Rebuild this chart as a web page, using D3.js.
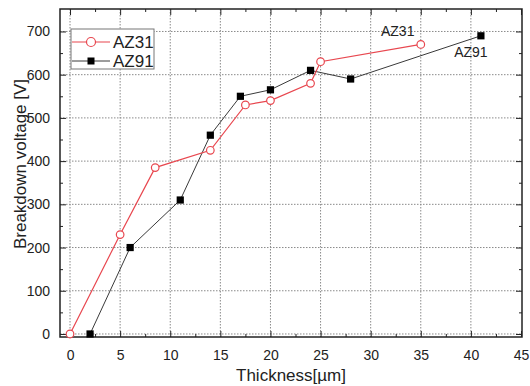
<!DOCTYPE html>
<html>
<head>
<meta charset="utf-8">
<script src="https://cdn.jsdelivr.net/npm/d3@7"></script>
<style>
  body { margin: 0; background: #fff; }
  svg { font-family: "Liberation Sans", Arial, sans-serif; }
  .grid line { stroke: #8a8a8a; stroke-width: 1; stroke-dasharray: 1.5,1.5; }
</style>
</head>
<body>
<div id="chart"></div>
<script>
// thickness (um) and breakdown voltage (V)
var az31X = [0, 5, 8.5, 14, 17.5, 20, 24, 25, 35];
var az31Y = [0, 230, 385, 425, 530, 540, 580, 630, 670];
var az91X = [2, 6, 11, 14, 17, 20, 24, 28, 41];
var az91Y = [0, 200, 310, 460, 550, 565, 610, 590, 690];
var xTicks = [0, 5, 10, 15, 20, 25, 30, 35, 40, 45];
var yTicks = [0, 100, 200, 300, 400, 500, 600, 700];

var W = 530, H = 386;
var m = {top: 9, right: 8, bottom: 49, left: 60};
var w = W - m.left - m.right, h = H - m.top - m.bottom;
var red = "#e8474f", dark = "#3a3a3a";

var x = d3.scaleLinear().domain([-1, 45.1]).range([0, w]);
var y = d3.scaleLinear().domain([-7, 752]).range([h, 0]);

var svg = d3.select("#chart").append("svg")
    .attr("width", W).attr("height", H)
  .append("g")
    .attr("transform", "translate(" + m.left + "," + m.top + ")");

// dotted grid at the major ticks
var grid = svg.append("g").attr("class", "grid");
grid.selectAll(".gx").data(xTicks.filter(function(d) { return d < 45; })).enter().append("line")
    .attr("x1", function(d) { return x(d); }).attr("x2", function(d) { return x(d); })
    .attr("y1", 0).attr("y2", h);
grid.selectAll(".gy").data(yTicks).enter().append("line")
    .attr("y1", function(d) { return y(d); }).attr("y2", function(d) { return y(d); })
    .attr("x1", 0).attr("x2", w);

// axes, ticks pointing inward, minor ticks in between
var minorX = d3.range(2.5, 45, 5), minorY = d3.range(50, 750, 100);
function axisStyle(g) {
  g.select(".domain").remove();
  g.selectAll("line").attr("stroke", "#222");
  g.selectAll("text").attr("fill", "#222").style("font-size", "14px");
}
svg.append("g").attr("transform", "translate(0," + h + ")")
   .call(d3.axisBottom(x).tickValues(xTicks).tickSize(-6).tickPadding(13))
   .call(axisStyle);
svg.append("g").attr("transform", "translate(0," + h + ")")
   .call(d3.axisBottom(x).tickValues(minorX).tickSize(-3).tickFormat(""))
   .call(axisStyle);
svg.append("g")
   .call(d3.axisTop(x).tickValues(xTicks).tickSize(-6).tickFormat(""))
   .call(axisStyle);
svg.append("g")
   .call(d3.axisTop(x).tickValues(minorX).tickSize(-3).tickFormat(""))
   .call(axisStyle);
svg.append("g")
   .call(d3.axisLeft(y).tickValues(yTicks).tickSize(-6).tickPadding(10))
   .call(axisStyle);
svg.append("g")
   .call(d3.axisLeft(y).tickValues(minorY).tickSize(-3).tickFormat(""))
   .call(axisStyle);
svg.append("g").attr("transform", "translate(" + w + ",0)")
   .call(d3.axisRight(y).tickValues(yTicks).tickSize(-6).tickFormat(""))
   .call(axisStyle);
svg.append("g").attr("transform", "translate(" + w + ",0)")
   .call(d3.axisRight(y).tickValues(minorY).tickSize(-3).tickFormat(""))
   .call(axisStyle);

svg.append("rect").attr("width", w).attr("height", h)
   .attr("fill", "none").attr("stroke", "#222").attr("stroke-width", 1.5);

// series
var line = d3.line().x(function(d) { return x(d[0]); }).y(function(d) { return y(d[1]); });
var az31 = d3.zip(az31X, az31Y), az91 = d3.zip(az91X, az91Y);

svg.append("path").datum(az91).attr("d", line)
   .attr("fill", "none").attr("stroke", dark).attr("stroke-width", 1);
svg.append("path").datum(az31).attr("d", line)
   .attr("fill", "none").attr("stroke", red).attr("stroke-width", 1.2);

svg.selectAll(".sq").data(az91).enter().append("rect")
   .attr("x", function(d) { return x(d[0]) - 3.6; })
   .attr("y", function(d) { return y(d[1]) - 3.6; })
   .attr("width", 7.2).attr("height", 7.2).attr("fill", "#000");
svg.selectAll(".ci").data(az31).enter().append("circle")
   .attr("cx", function(d) { return x(d[0]); })
   .attr("cy", function(d) { return y(d[1]); })
   .attr("r", 3.8).attr("fill", "#fff").attr("stroke", red).attr("stroke-width", 1.2);

// end labels
svg.append("text").attr("x", x(32.7)).attr("y", y(700) + 5).attr("text-anchor", "middle")
   .style("font-size", "14px").attr("fill", "#222").text("AZ31");
svg.append("text").attr("x", x(40)).attr("y", y(650) + 4).attr("text-anchor", "middle")
   .style("font-size", "14px").attr("fill", "#222").text("AZ91");

// legend
var lg = svg.append("g").attr("transform", "translate(11,20)");
lg.append("rect").attr("width", 83).attr("height", 40)
  .attr("fill", "#fff").attr("stroke", "#777").attr("stroke-width", 1);
lg.append("line").attr("x1", 1).attr("x2", 39).attr("y1", 13).attr("y2", 13)
  .attr("stroke", red).attr("stroke-width", 1.2);
lg.append("circle").attr("cx", 20).attr("cy", 13).attr("r", 4.5)
  .attr("fill", "#fff").attr("stroke", red).attr("stroke-width", 1.2);
lg.append("text").attr("x", 42).attr("y", 19).style("font-size", "17px").attr("fill", "#222").text("AZ31");
lg.append("line").attr("x1", 1).attr("x2", 39).attr("y1", 32).attr("y2", 32)
  .attr("stroke", dark).attr("stroke-width", 1);
lg.append("rect").attr("x", 16.5).attr("y", 28.5).attr("width", 7).attr("height", 7).attr("fill", "#000");
lg.append("text").attr("x", 42).attr("y", 38).style("font-size", "17px").attr("fill", "#222").text("AZ91");

// axis titles
svg.append("text").attr("x", w / 2).attr("y", h + 44).attr("text-anchor", "middle")
   .style("font-size", "17px").attr("fill", "#222").text("Thickness[\u00b5m]");
svg.append("text").attr("transform", "rotate(-90)")
   .attr("x", -(164 - m.top)).attr("y", -34).attr("text-anchor", "middle")
   .style("font-size", "17px").attr("fill", "#222").text("Breakdown voltage [V]");
</script>
</body>
</html>
